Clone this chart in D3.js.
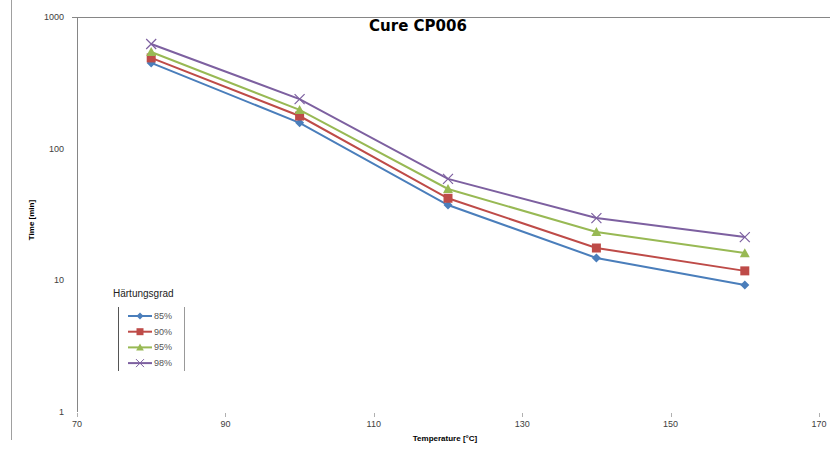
<!DOCTYPE html>
<html>
<head>
<meta charset="utf-8">
<script src="https://cdn.jsdelivr.net/npm/d3@7"></script>
<style>
  body { margin: 0; background: #fff; }
  text { font-family: "Liberation Sans", "DejaVu Sans", sans-serif; }
</style>
</head>
<body>
<svg id="chart" width="835" height="452"></svg>
<script>
// chart data
var temperatures = [80, 100, 120, 140, 160];
var seriesNames = ['85%', '90%', '95%', '98%'];
var time85 = [448, 157, 37.3, 14.8, 9.2];
var time90 = [489, 177, 42, 17.6, 11.8];
var time95 = [542, 197, 49.4, 23.3, 16.1];
var time98 = [624, 238, 58.9, 29.7, 21.3];
var xTicks = [70, 90, 110, 130, 150, 170];
var yTicks = [1, 10, 100, 1000];

var seriesValues = [time85, time90, time95, time98];
var colors = ['#4a7ebb', '#be4b48', '#98b954', '#7d60a0'];

var svg = d3.select('#chart');

var x = d3.scaleLinear().domain([70, 170]).range([77, 819]);
var y = d3.scaleLog().domain([1, 1000]).range([412, 17]);

// marker shapes, r = half size
function markerPath(s, r) {
    if (s === 0) return 'M0,' + (-r) + 'L' + r + ',0L0,' + r + 'L' + (-r) + ',0Z';
    if (s === 1) return 'M' + (-r) + ',' + (-r) + 'H' + r + 'V' + r + 'H' + (-r) + 'Z';
    if (s === 2) return 'M0,' + (-r * 1.1) + 'L' + (r * 1.1) + ',' + (r * 0.9) + 'H' + (-r * 1.1) + 'Z';
    return 'M' + (-r) + ',' + (-r) + 'L' + r + ',' + r + 'M' + (-r) + ',' + r + 'L' + r + ',' + (-r);
}

// outer frame line on the left
svg.append('line')
    .attr('x1', 11.5).attr('x2', 11.5).attr('y1', 0).attr('y2', 440)
    .attr('stroke', '#a0a0a0').attr('stroke-width', 1);

// top border of plot area
svg.append('line')
    .attr('x1', 72).attr('x2', 830).attr('y1', 17.5).attr('y2', 17.5)
    .attr('stroke', '#868686').attr('stroke-width', 1);

// y axis
svg.append('line')
    .attr('x1', 77.5).attr('x2', 77.5).attr('y1', 17).attr('y2', 412)
    .attr('stroke', '#868686').attr('stroke-width', 1);

svg.selectAll('.ylab').data(yTicks).enter().append('text')
    .attr('class', 'ylab')
    .attr('x', 64).attr('y', function(d) { return y(d) + 3; })
    .attr('text-anchor', 'end')
    .attr('font-size', 9).attr('fill', '#404040')
    .text(function(d) { return d; });

// x axis ticks + labels
svg.selectAll('.xtick').data(xTicks).enter().append('line')
    .attr('class', 'xtick')
    .attr('x1', function(d) { return Math.round(x(d)) + 0.5; })
    .attr('x2', function(d) { return Math.round(x(d)) + 0.5; })
    .attr('y1', 413).attr('y2', 417)
    .attr('stroke', '#b0b0b0');

svg.selectAll('.xlab').data(xTicks).enter().append('text')
    .attr('class', 'xlab')
    .attr('x', function(d) { return x(d); }).attr('y', 427)
    .attr('text-anchor', 'middle')
    .attr('font-size', 9).attr('fill', '#404040')
    .text(function(d) { return d; });

// titles
svg.append('text')
    .attr('x', 418).attr('y', 31)
    .attr('text-anchor', 'middle')
    .attr('font-size', 15).attr('font-weight', 'bold')
    .style('font-family', '"DejaVu Sans", sans-serif')
    .text('Cure CP006');

svg.append('text')
    .attr('x', 445).attr('y', 441)
    .attr('text-anchor', 'middle')
    .attr('font-size', 8).attr('font-weight', 'bold')
    .text('Temperature [°C]');

svg.append('text')
    .attr('transform', 'translate(34,220) rotate(-90)')
    .attr('text-anchor', 'middle')
    .attr('font-size', 8).attr('font-weight', 'bold')
    .text('Time [min]');

// series
var line = d3.line()
    .x(function(d, i) { return x(temperatures[i]); })
    .y(function(d) { return y(d); });

seriesValues.forEach(function(vals, s) {
    svg.append('path')
        .datum(vals)
        .attr('d', line)
        .attr('fill', 'none')
        .attr('stroke', colors[s])
        .attr('stroke-width', 2);

    svg.selectAll('.m' + s).data(vals).enter().append('path')
        .attr('class', 'm' + s)
        .attr('d', markerPath(s, s === 3 ? 5 : 4.5))
        .attr('transform', function(d, i) {
            return 'translate(' + x(temperatures[i]) + ',' + y(d) + ')';
        })
        .attr('fill', s === 3 ? 'none' : colors[s])
        .attr('stroke', s === 3 ? colors[s] : 'none')
        .attr('stroke-width', 1.2);
});

// legend
var lg = svg.append('g');
lg.append('text')
    .attr('x', 113).attr('y', 297)
    .attr('font-size', 10).attr('fill', '#222')
    .text('Härtungsgrad');
lg.append('line').attr('x1', 118.5).attr('x2', 118.5).attr('y1', 307).attr('y2', 371)
    .attr('stroke', '#555');
lg.append('line').attr('x1', 184.5).attr('x2', 184.5).attr('y1', 307).attr('y2', 371)
    .attr('stroke', '#999');

seriesNames.forEach(function(name, s) {
    var ly = 316 + s * 15.7;
    lg.append('line')
        .attr('x1', 128).attr('x2', 152).attr('y1', ly).attr('y2', ly)
        .attr('stroke', colors[s]).attr('stroke-width', 2);
    lg.append('path')
        .attr('transform', 'translate(140,' + ly + ')')
        .attr('d', markerPath(s, s === 3 ? 4 : 3.5))
        .attr('fill', s === 3 ? 'none' : colors[s])
        .attr('stroke', s === 3 ? colors[s] : 'none')
        .attr('stroke-width', 1);
    lg.append('text')
        .attr('x', 154).attr('y', ly + 3)
        .attr('font-size', 9).attr('fill', '#555')
        .text(name);
});
</script>
</body>
</html>
